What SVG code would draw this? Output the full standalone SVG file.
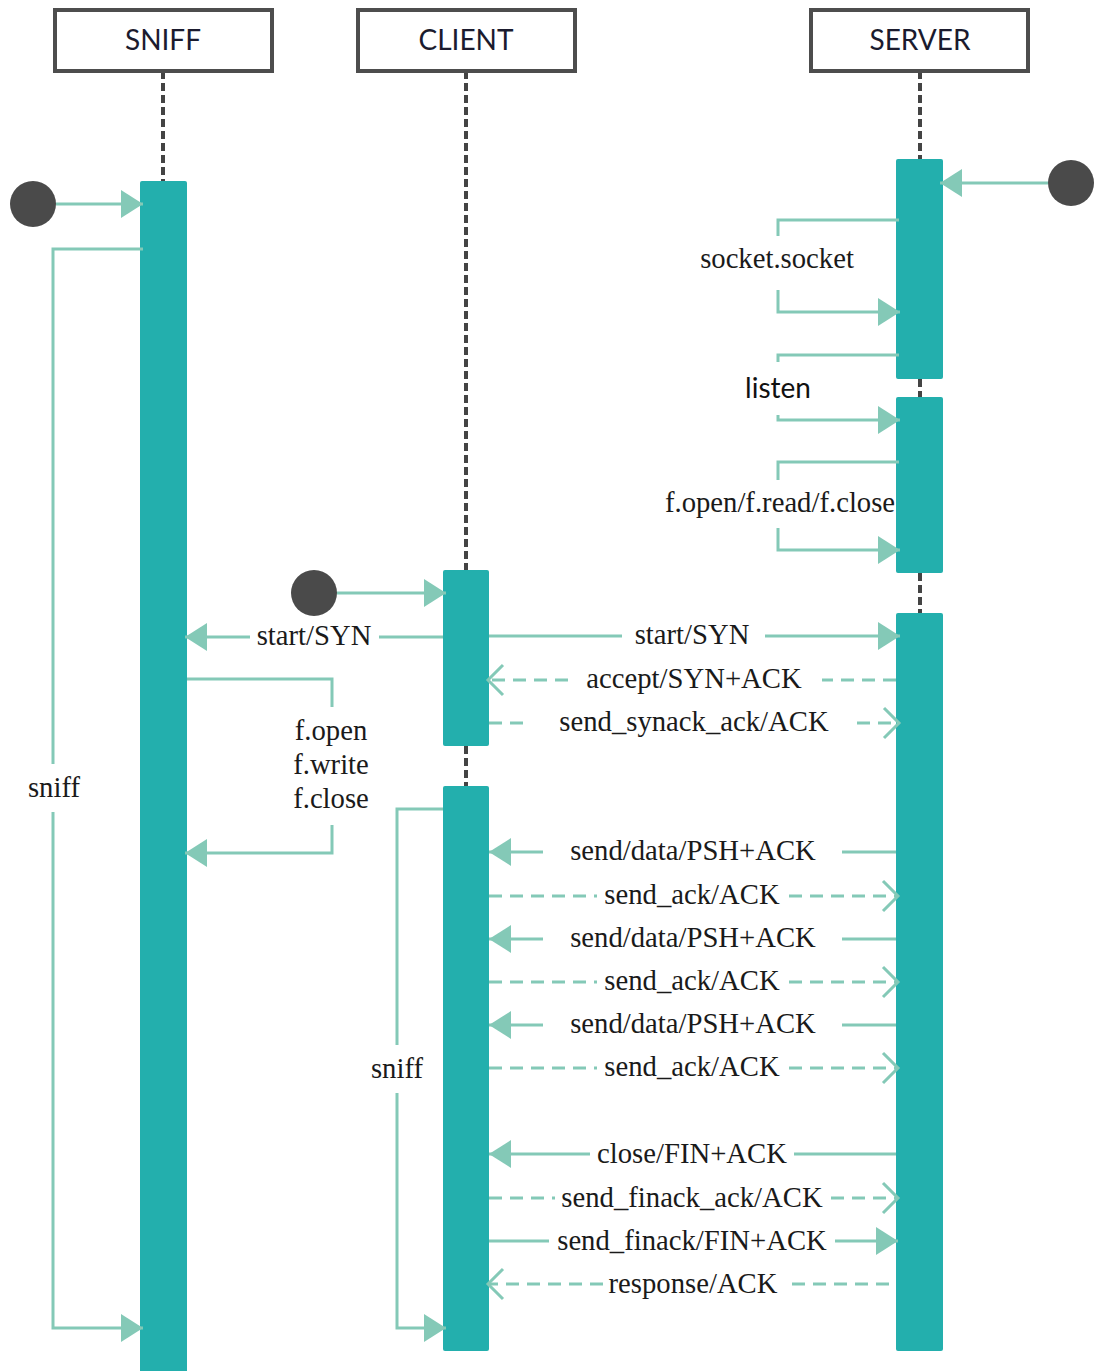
<svg xmlns="http://www.w3.org/2000/svg" width="1097" height="1371" viewBox="0 0 1097 1371">
<style>
.hdr{fill:#fff;stroke:#4d4d4d;stroke-width:4}
.htxt{font-family:Lato,"Open Sans",sans-serif;font-size:28px;fill:#1b1b2e;text-anchor:middle}
.life{stroke:#444;stroke-width:4;stroke-dasharray:8 4;fill:none}
.bar{fill:#23AFAD}
.start{fill:#4a4a4a}
.c{stroke:#84C9B7;stroke-width:3;fill:none}
.d{stroke-dasharray:13 8}
.lbl{font-family:"Liberation Serif","Times New Roman",serif;font-size:28.7px;fill:#1a1a1a;text-anchor:middle}
.sans{font-family:Lato,"Open Sans",sans-serif;font-size:28px;fill:#111;text-anchor:middle}
</style>
<defs>
<marker id="tri" markerUnits="userSpaceOnUse" viewBox="0 0 22 28" refX="22" refY="14" markerWidth="22" markerHeight="28" orient="auto">
<path d="M0,0 L22,14 L0,28 z" fill="#84C9B7"/>
</marker>
<marker id="chev" markerUnits="userSpaceOnUse" viewBox="-2 -2 20 34" refX="15" refY="15" markerWidth="20" markerHeight="34" orient="auto">
<path d="M0,0 L15,15 L0,30" fill="none" stroke="#84C9B7" stroke-width="3"/>
</marker>
</defs>

<g id="lifelines">
<path class="life" d="M163,71 V181"/>
<path class="life" d="M466,71 V570 M466,746 V786"/>
<path class="life" d="M920,71 V159 M920,379 V397 M920,573 V613"/>
</g>

<g id="sniff-node">
<rect class="hdr" x="55" y="10" width="217" height="61"/>
<text class="htxt" x="163" y="50">SNIFF</text>
</g>
<g id="client-node">
<rect class="hdr" x="358" y="10" width="217" height="61"/>
<text class="htxt" x="466" y="50">CLIENT</text>
</g>
<g id="server-node">
<rect class="hdr" x="811" y="10" width="217" height="61"/>
<text class="htxt" x="920" y="50">SERVER</text>
</g>

<g id="activations">
<rect id="sniff-act" class="bar" x="140" y="181" width="47" height="1195" rx="2"/>
<rect id="client-act1" class="bar" x="443" y="570" width="46" height="176" rx="2"/>
<rect id="client-act2" class="bar" x="443" y="786" width="46" height="565" rx="2"/>
<rect id="server-act1" class="bar" x="896" y="159" width="47" height="220" rx="2"/>
<rect id="server-act2" class="bar" x="896" y="397" width="47" height="176" rx="2"/>
<rect id="server-act3" class="bar" x="896" y="613" width="47" height="738" rx="2"/>
</g>

<g id="starts">
<circle id="sniff-start" class="start" cx="33" cy="204" r="23"/>
<circle id="client-start" class="start" cx="314" cy="593" r="23"/>
<circle id="server-start" class="start" cx="1071" cy="183" r="23"/>
</g>

<g id="connectors">
<path class="c" d="M56,204 H143" marker-end="url(#tri)"/>
<path class="c" d="M1048,183 H940" marker-end="url(#tri)"/>
<path class="c" d="M337,593 H446" marker-end="url(#tri)"/>

<path class="c" d="M143,249 H53 V764"/>
<path class="c" d="M53,812 V1328 H143" marker-end="url(#tri)"/>

<path class="c" d="M899,220 H778 V236"/>
<path class="c" d="M778,290 V312 H900" marker-end="url(#tri)"/>
<path class="c" d="M899,355 H778 V362"/>
<path class="c" d="M778,415 V420 H900" marker-end="url(#tri)"/>
<path class="c" d="M899,462 H778 V480"/>
<path class="c" d="M778,528 V550 H900" marker-end="url(#tri)"/>

<path class="c" d="M443,637 H379"/>
<path class="c" d="M250,637 H185" marker-end="url(#tri)"/>
<path class="c" d="M489,636 H622"/>
<path class="c" d="M765,636 H900" marker-end="url(#tri)"/>
<path class="c d" d="M896,680 H822"/>
<path class="c d" d="M568,680 H488" marker-end="url(#chev)"/>
<path class="c d" d="M489,723 H530"/>
<path class="c d" d="M857,723 H899" marker-end="url(#chev)"/>

<path class="c" d="M187,679 H332 V707"/>
<path class="c" d="M332,825 V853 H185" marker-end="url(#tri)"/>

<path class="c" d="M443,809 H397 V1045"/>
<path class="c" d="M397,1093 V1328 H446" marker-end="url(#tri)"/>

<path class="c" d="M896,852 H842"/>
<path class="c" d="M543,852 H489" marker-end="url(#tri)"/>
<path class="c d" d="M489,896 H597"/>
<path class="c d" d="M789,896 H898" marker-end="url(#chev)"/>
<path class="c" d="M896,939 H842"/>
<path class="c" d="M543,939 H489" marker-end="url(#tri)"/>
<path class="c d" d="M489,982 H597"/>
<path class="c d" d="M789,982 H898" marker-end="url(#chev)"/>
<path class="c" d="M896,1025 H842"/>
<path class="c" d="M543,1025 H489" marker-end="url(#tri)"/>
<path class="c d" d="M489,1068 H597"/>
<path class="c d" d="M789,1068 H898" marker-end="url(#chev)"/>

<path class="c" d="M896,1154 H794"/>
<path class="c" d="M590,1154 H489" marker-end="url(#tri)"/>
<path class="c d" d="M489,1198 H555"/>
<path class="c d" d="M831,1198 H898" marker-end="url(#chev)"/>
<path class="c" d="M489,1241 H549"/>
<path class="c" d="M835,1241 H898" marker-end="url(#tri)"/>
<path class="c d" d="M889,1284 H787"/>
<path class="c d" d="M603,1284 H488" marker-end="url(#chev)"/>
</g>

<g id="labels">
<text class="lbl" x="54" y="797">sniff</text>
<text class="lbl" x="777" y="268">socket.socket</text>
<text class="sans" x="778" y="398">listen</text>
<text class="lbl" x="780" y="512">f.open/f.read/f.close</text>
<text class="lbl" x="314" y="645">start/SYN</text>
<text class="lbl" x="692" y="644">start/SYN</text>
<text class="lbl" x="694" y="688">accept/SYN+ACK</text>
<text class="lbl" x="694" y="731">send_synack_ack/ACK</text>
<text class="lbl" x="331" y="740">f.open</text>
<text class="lbl" x="331" y="774">f.write</text>
<text class="lbl" x="331" y="808">f.close</text>
<text class="lbl" x="397" y="1078">sniff</text>
<text class="lbl" x="693" y="860">send/data/PSH+ACK</text>
<text class="lbl" x="692" y="904">send_ack/ACK</text>
<text class="lbl" x="693" y="947">send/data/PSH+ACK</text>
<text class="lbl" x="692" y="990">send_ack/ACK</text>
<text class="lbl" x="693" y="1033">send/data/PSH+ACK</text>
<text class="lbl" x="692" y="1076">send_ack/ACK</text>
<text class="lbl" x="692" y="1163">close/FIN+ACK</text>
<text class="lbl" x="692" y="1207">send_finack_ack/ACK</text>
<text class="lbl" x="692" y="1250">send_finack/FIN+ACK</text>
<text class="lbl" x="693" y="1293">response/ACK</text>
</g>
</svg>
